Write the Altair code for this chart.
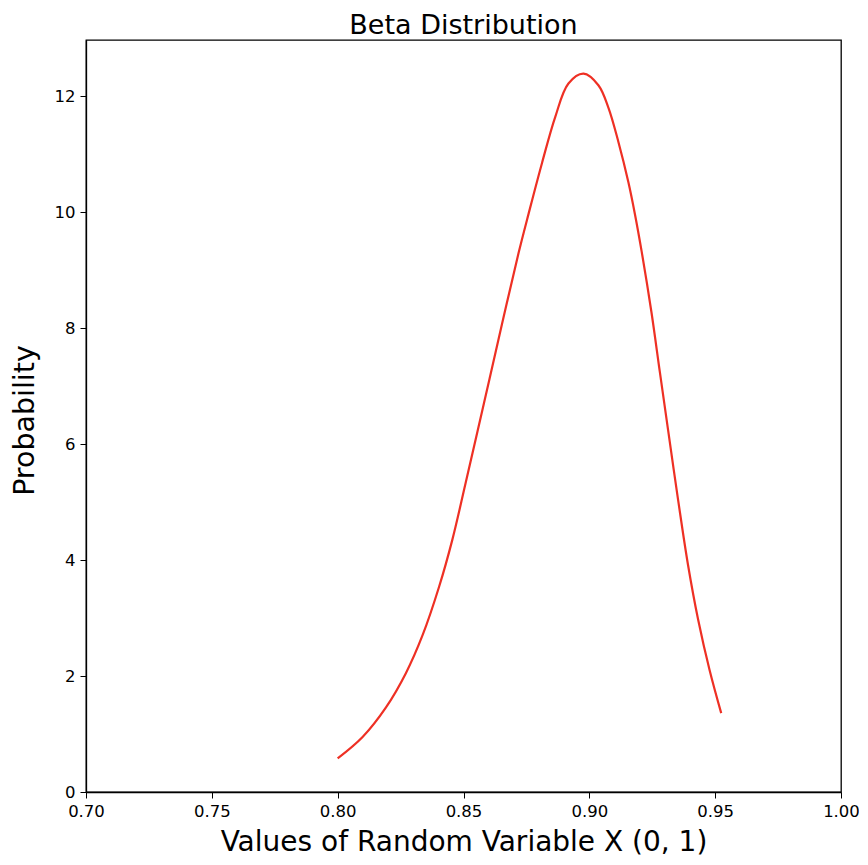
import altair as alt
import pandas as pd

x_values = [0.8000, 0.8099, 0.8192, 0.8271, 0.8337, 0.8403, 0.8455, 0.8508, 0.8581,
            0.8653, 0.8719, 0.8759, 0.8812, 0.8865, 0.8917, 0.8977, 0.9036, 0.9076,
            0.9115, 0.9155, 0.9181, 0.9208, 0.9247, 0.9280, 0.9313, 0.9353, 0.9392,
            0.9432, 0.9478, 0.9524]
pdf_values = [0.58, 0.95, 1.46, 2.05, 2.70, 3.54, 4.34, 5.32, 6.70,
              8.07, 9.30, 9.98, 10.85, 11.65, 12.22, 12.39, 12.19, 11.80,
              11.22, 10.52, 9.97, 9.32, 8.27, 7.25, 6.24, 5.03, 3.92,
              2.98, 2.10, 1.36]
x_ticks = [0.70, 0.75, 0.80, 0.85, 0.90, 0.95, 1.00]
y_ticks = [0, 2, 4, 6, 8, 10, 12]
title_text = ["Beta Distribution"]

df = pd.DataFrame({"x": x_values, "p": pdf_values})
df_title = pd.DataFrame({"t": title_text})

FONT = "DejaVu Sans"
W = 755
H = 752

line = alt.Chart(df).mark_line(color="#ee3024", strokeWidth=2.2, interpolate="catmull-rom").encode(
    x=alt.X("x:Q",
            scale=alt.Scale(domain=[0.70, 1.00], nice=False, zero=False),
            axis=alt.Axis(values=x_ticks, format=".2f", title="Values of Random Variable X (0, 1)",
                          grid=False, tickSize=6, labelPadding=5, labelFontSize=16.5,
                          labelFont=FONT, labelColor="#000", tickColor="#000",
                          domainColor="#000", domainWidth=1.3,
                          titleFont=FONT, titleFontSize=28, titleFontWeight="normal",
                          titleColor="#000", titleBaseline="alphabetic", titleY=58,
                          labelFlush=False)),
    y=alt.Y("p:Q",
            scale=alt.Scale(domain=[0, 12.97], nice=False),
            axis=alt.Axis(values=y_ticks, format="d", title="Probability",
                          grid=False, tickSize=6, labelPadding=5, labelFontSize=16.5,
                          labelFont=FONT, labelColor="#000", tickColor="#000",
                          domainColor="#000", domainWidth=1.3,
                          titleFont=FONT, titleFontSize=28.5, titleFontWeight="normal",
                          titleColor="#000", titleBaseline="alphabetic",
                          titleAngle=-90, titleX=-53, titleY=380, titleAlign="center",
                          labelFlush=False)),
)

title = alt.Chart(df_title).mark_text(
    font=FONT, fontSize=27, color="#000", align="center", baseline="alphabetic"
).encode(
    text="t:N",
    x=alt.value(W / 2),
    y=alt.value(-6),
)

chart = alt.layer(line, title).properties(
    width=W,
    height=H,
    autosize=alt.AutoSizeParams(type="none"),
    padding={"left": 78, "top": 32, "right": 18, "bottom": 65},
).configure_view(stroke="#000", strokeWidth=1.3)

chart.save("out.html", embed_options={"renderer": "svg", "actions": False})
